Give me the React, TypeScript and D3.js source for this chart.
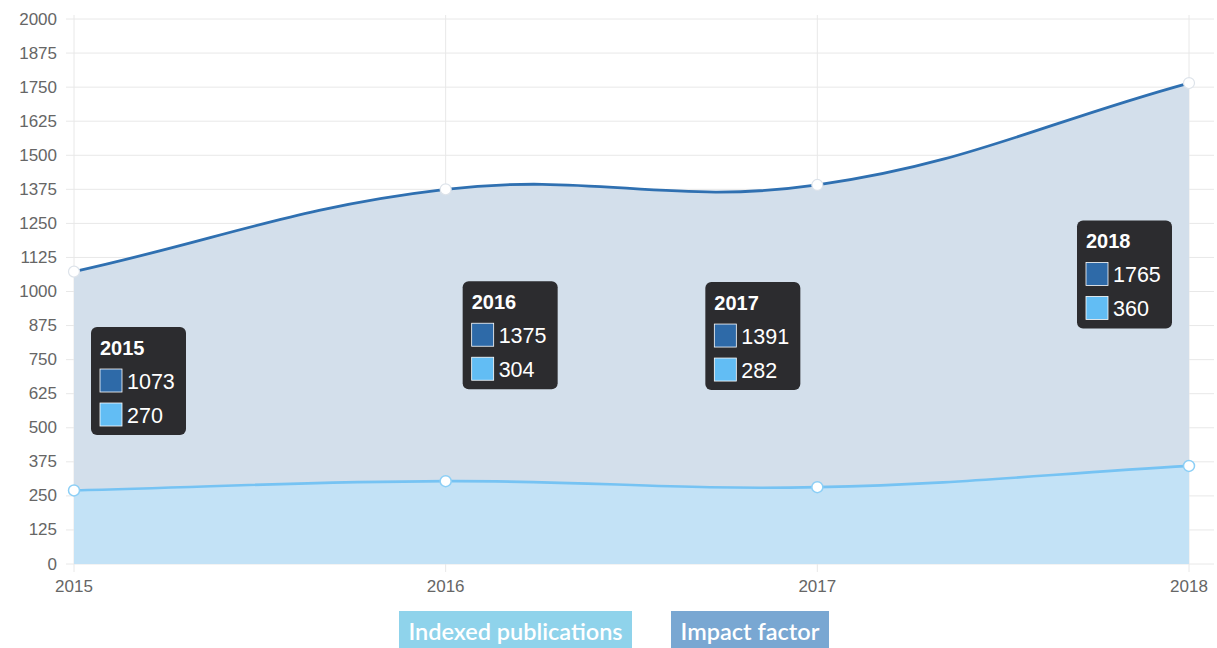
import React from "react";
import * as d3 from "d3";

const years = ["2015", "2016", "2017", "2018"];
const impactFactor = [1073, 1375, 1391, 1765];
const indexedPublications = [270, 304, 282, 360];
const yTicks = [0, 125, 250, 375, 500, 625, 750, 875, 1000, 1125, 1250, 1375, 1500, 1625, 1750, 1875, 2000];
const legendLabels = ["Indexed publications", "Impact factor"];

const W = 1217;
const H = 648;
const left = 74;
const right = 1189;
const top = 19;
const bottom = 564;

const C = {
  impactLine: "#2f70b1",
  impactFill: "#d3dfeb",
  indexLine: "#76c3f3",
  indexFill: "#c3e2f6",
  grid: "#e8e8e8",
  tick: "#666666",
  tipBg: "#2c2c2f",
  swImpact: "#2e6aa8",
  swIndex: "#62bdf4",
  legIndex: "#8fd3eb",
  legImpact: "#79a7d2",
};

type P = { x: number; y: number; cpx0?: number; cpy0?: number; cpx1?: number; cpy1?: number };

function splinePath(pts: P[], t: number): string {
  const n = pts.length;
  const cap = (v: number, a: number, b: number) => Math.max(a, Math.min(b, v));
  for (let i = 0; i < n; i++) {
    const cur = pts[i];
    const prev = pts[i - 1] || cur;
    const next = pts[i + 1] || cur;
    const d01 = Math.hypot(cur.x - prev.x, cur.y - prev.y);
    const d12 = Math.hypot(next.x - cur.x, next.y - cur.y);
    let s01 = d01 / (d01 + d12);
    let s12 = d12 / (d01 + d12);
    s01 = isNaN(s01) ? 0 : s01;
    s12 = isNaN(s12) ? 0 : s12;
    const fa = t * s01;
    const fb = t * s12;
    cur.cpx0 = cap(cur.x - fa * (next.x - prev.x), left, right);
    cur.cpy0 = cap(cur.y - fa * (next.y - prev.y), top, bottom);
    cur.cpx1 = cap(cur.x + fb * (next.x - prev.x), left, right);
    cur.cpy1 = cap(cur.y + fb * (next.y - prev.y), top, bottom);
  }
  const path = d3.path();
  path.moveTo(pts[0].x, pts[0].y);
  for (let i = 1; i < n; i++) {
    const a = pts[i - 1];
    const b = pts[i];
    path.bezierCurveTo(a.cpx1!, a.cpy1!, b.cpx0!, b.cpy0!, b.x, b.y);
  }
  return path.toString();
}

export default function App() {
  const x = d3.scalePoint<string>().domain(years).range([left, right]);
  const y = d3.scaleLinear().domain([0, 2000]).range([bottom, top]);

  const mk = (vals: number[]) => vals.map((v, i) => ({ x: x(years[i])!, y: y(v) }));
  const impPts = mk(impactFactor);
  const idxPts = mk(indexedPublications);
  const impLine = splinePath(impPts, 0.4);
  const idxLine = splinePath(idxPts, 0.4);
  const areaOf = (line: string, pts: P[]) =>
    `${line}L${pts[pts.length - 1].x},${y(0)}L${pts[0].x},${y(0)}Z`;

  const tipW = 95;
  const tipH = 108;

  return (
    <svg width={W} height={H} style={{ position: "absolute", left: 0, top: 0, display: "block" }}>
      <rect x={0} y={0} width={W} height={H} fill="#ffffff" />
      {yTicks.map((t) => (
        <g key={t}>
          <line x1={66} x2={1214} y1={y(t)} y2={y(t)} stroke={C.grid} strokeWidth={1} />
          <text
            x={57}
            y={y(t)}
            textAnchor="end"
            dominantBaseline="central"
            fontFamily="'Liberation Sans', Arial, sans-serif"
            fontSize={17}
            fill={C.tick}
          >
            {t}
          </text>
        </g>
      ))}
      {years.map((yr) => (
        <g key={yr}>
          <line x1={x(yr)!} x2={x(yr)!} y1={15} y2={572} stroke={C.grid} strokeWidth={1} />
          <text
            x={x(yr)!}
            y={592}
            textAnchor="middle"
            fontFamily="'Liberation Sans', Arial, sans-serif"
            fontSize={17}
            fill={C.tick}
          >
            {yr}
          </text>
        </g>
      ))}
      <path d={areaOf(impLine, impPts)} fill={C.impactFill} />
      <path d={areaOf(idxLine, idxPts)} fill={C.indexFill} />
      <path d={impLine} fill="none" stroke={C.impactLine} strokeWidth={2.8} />
      <path d={idxLine} fill="none" stroke={C.indexLine} strokeWidth={2.6} />
      {impPts.map((p, i) => (
        <circle key={"a" + i} cx={p.x} cy={p.y} r={5.5} fill="#ffffff" stroke="#dde3ea" strokeWidth={1.2} />
      ))}
      {idxPts.map((p, i) => (
        <circle key={"b" + i} cx={p.x} cy={p.y} r={5.5} fill="#ffffff" stroke="#8ccff6" strokeWidth={1.5} />
      ))}
      {years.map((yr, i) => {
        const px = x(yr)!;
        const cy = y((impactFactor[i] + indexedPublications[i]) / 2);
        const onLeft = px > (left + right) / 2;
        const bx = onLeft ? px - 17 - tipW : px + 17;
        const by = cy - tipH / 2;
        return (
          <g key={"t" + yr} fontFamily="'Liberation Sans', Arial, sans-serif">
            <rect x={bx} y={by} width={tipW} height={tipH} rx={6} fill={C.tipBg} />
            <text x={bx + 9} y={by + 28} fill="#ffffff" fontWeight="bold" fontSize={20}>
              {yr}
            </text>
            <rect x={bx + 9} y={by + 42} width={22} height={23} fill={C.swImpact} stroke="#ffffff" strokeWidth={0.8} />
            <text x={bx + 36} y={by + 62} fill="#ffffff" fontSize={21.5}>
              {impactFactor[i]}
            </text>
            <rect x={bx + 9} y={by + 76} width={22} height={23} fill={C.swIndex} stroke="#ffffff" strokeWidth={0.8} />
            <text x={bx + 36} y={by + 96} fill="#ffffff" fontSize={21.5}>
              {indexedPublications[i]}
            </text>
          </g>
        );
      })}
      <g fontFamily="Lato, 'Open Sans', sans-serif" fontSize={23.5} fontWeight={600}>
        <rect x={399} y={611} width={233} height={40} fill={C.legIndex} />
        <text x={515.5} y={640} textAnchor="middle" fill="#ffffff">
          {legendLabels[0]}
        </text>
        <rect x={671} y={611} width={158} height={40} fill={C.legImpact} />
        <text x={750} y={640} textAnchor="middle" fill="#ffffff">
          {legendLabels[1]}
        </text>
      </g>
    </svg>
  );
}
